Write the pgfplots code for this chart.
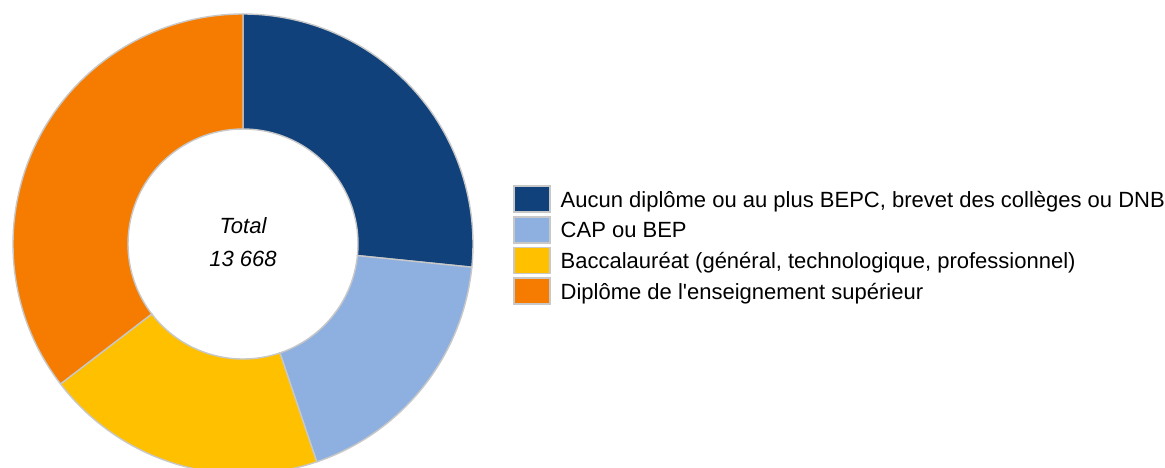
\documentclass[border=0pt]{standalone}
\usepackage{fontspec}
\setmainfont{Liberation Sans}
\usepackage{pgfplots}
\usepackage{pgfplotstable}
\pgfplotsset{compat=1.18}

\definecolor{donutA}{RGB}{16,65,122}
\definecolor{donutB}{RGB}{142,176,224}
\definecolor{donutC}{RGB}{255,192,0}
\definecolor{donutD}{RGB}{245,124,0}
\definecolor{slicegray}{RGB}{200,200,200}

% effectifs par diplome (sens horaire depuis midi)
\pgfplotstableread{
label value color
A 3637 donutA
B 2487 donutB
C 2704 donutC
D 4840 donutD
}\donutdata

\pgfplotsset{
  donutleg/.style={legend image code/.code={
    \draw[fill=#1,draw=slicegray,line width=0.8pt] (0pt,-5.7pt) rectangle (18pt,7.3pt);}},
}

\begin{document}
\begin{tikzpicture}
\begin{axis}[
  at={(0,0)}, anchor=south west,
  scale only axis,
  x=0.5pt, y=0.5pt,
  xmin=0, xmax=1165, ymin=0, ymax=467,
  hide axis,
  clip=true,
  font=\fontsize{11}{13}\selectfont,
  legend cell align=left,
  legend style={at={(axis cs:512.7,282)}, anchor=north west,
    draw=none, fill=none, inner sep=0pt, row sep=1.5pt, column sep=5pt,
    nodes={inner sep=0pt}},
]
\addlegendimage{donutleg=donutA}
\addlegendentry{Aucun diplôme ou au plus BEPC, brevet des collèges ou DNB}
\addlegendimage{donutleg=donutB}
\addlegendentry{CAP ou BEP}
\addlegendimage{donutleg=donutC}
\addlegendentry{Baccalauréat (général, technologique, professionnel)}
\addlegendimage{donutleg=donutD}
\addlegendentry{Diplôme de l\textquotesingle enseignement supérieur}

\pgfplotsextra{
  % total
  \gdef\tot{0}
  \foreach \i in {0,...,3}{
    \pgfplotstablegetelem{\i}{value}\of\donutdata
    \pgfmathsetmacro\t{\tot+\pgfplotsretval}
    \xdef\tot{\t}
  }
  \gdef\cum{0}
  \foreach \i in {0,...,3}{
    \pgfplotstablegetelem{\i}{value}\of\donutdata
    \pgfmathsetmacro\aS{90-(\cum/\tot)*360}
    \pgfmathsetmacro\nc{\cum+\pgfplotsretval}
    \xdef\cum{\nc}
    \pgfmathsetmacro\aE{90-(\cum/\tot)*360}
    \pgfplotstablegetelem{\i}{color}\of\donutdata
    \edef\col{\pgfplotsretval}
    \fill[fill=\col, draw=slicegray, line width=0.7pt]
      (axis cs:{243+230*cos(\aS)},{223+230*sin(\aS)})
      arc[start angle=\aS, end angle=\aE, radius=115pt]
      -- (axis cs:{243+115*cos(\aE)},{223+115*sin(\aE)})
      arc[start angle=\aE, end angle=\aS, radius=57.5pt] -- cycle;
  }
  \node[anchor=base, font=\fontsize{11}{13}\selectfont\itshape] at (axis cs:243,234) {Total};
  \node[anchor=base, font=\fontsize{11}{13}\selectfont\itshape] at (axis cs:243,200.3) {13 668};
}
\end{axis}
\pgfresetboundingbox
\useasboundingbox (0,0) rectangle (582.5pt,233.5pt);
\end{tikzpicture}
\end{document}
